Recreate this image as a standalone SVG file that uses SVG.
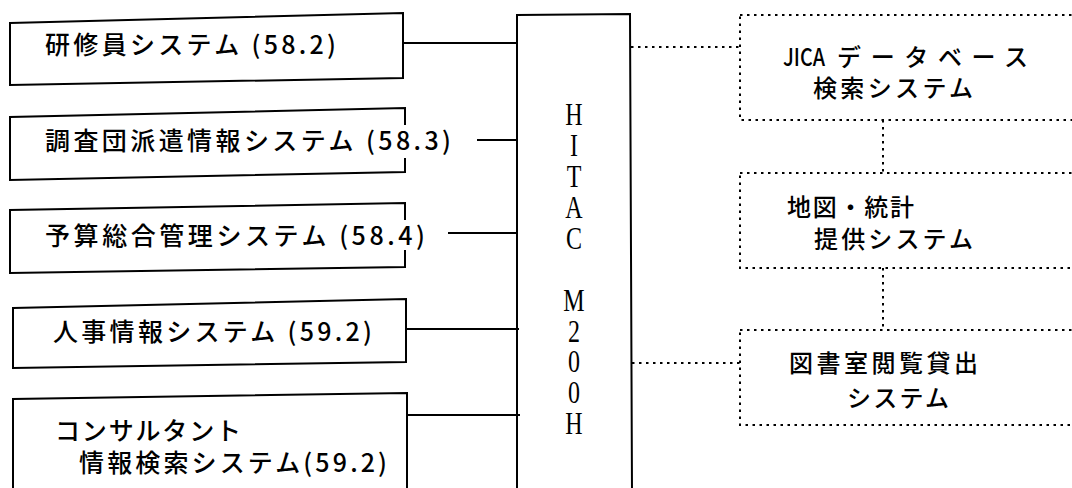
<svg xmlns="http://www.w3.org/2000/svg" width="1072" height="488" viewBox="0 0 1072 488">
<style>
.box{fill:none;stroke:#000;stroke-width:2}
.dbox{fill:none;stroke:#000;stroke-width:2;stroke-dasharray:2.5 4.5}
.ln{stroke:#000;stroke-width:2;fill:none}
.dl{stroke:#000;stroke-width:2;fill:none;stroke-dasharray:2.5 4.5}
.t{font-family:"Noto Sans CJK JP","Noto Sans CJK SC",sans-serif;font-size:25px;fill:#000;font-weight:500}
.tr{font-family:"Noto Sans CJK JP","Noto Sans CJK SC",sans-serif;font-size:24px;fill:#000;font-weight:500}
.h{font-family:"Liberation Serif",serif;font-size:32px;fill:#000;writing-mode:vertical-rl;text-orientation:upright}
</style>
<rect width="1072" height="488" fill="#fff"/>
<g id="connectors">
<line class="ln" x1="403" y1="43" x2="517" y2="43"/>
<line class="ln" x1="477" y1="140" x2="517" y2="140"/>
<line class="ln" x1="448" y1="233" x2="518" y2="233"/>
<line class="ln" x1="406" y1="329" x2="519" y2="329"/>
<line class="ln" x1="407" y1="415" x2="520" y2="415"/>
<line class="dl" x1="631" y1="47" x2="740" y2="47"/>
<line class="dl" x1="632" y1="363" x2="740" y2="363"/>
<line class="dl" x1="883" y1="120" x2="883" y2="173"/>
<line class="dl" x1="883" y1="268" x2="883" y2="330"/>
</g>
<g id="node-kenshuin">
<path class="box" d="M10,23 L403,13 L403,78 L10,85 Z"/>
<text class="t" x="45" y="54" textLength="291" lengthAdjust="spacing">研修員システム (58.2)</text>
</g>
<g id="node-chosadan">
<path class="box" d="M405,125 L405,108 L10,117 L10,180 L405,172 L405,158"/>
<text class="t" x="45" y="150" textLength="406" lengthAdjust="spacing">調査団派遣情報システム (58.3)</text>
</g>
<g id="node-yosan">
<path class="box" d="M405,220 L405,203 L10,210 L10,273 L405,267 L405,250"/>
<text class="t" x="45" y="245" textLength="380" lengthAdjust="spacing">予算総合管理システム (58.4)</text>
</g>
<g id="node-jinji">
<path class="box" d="M13,308 L406,299 L406,362 L13,368 Z"/>
<text class="t" x="53" y="341" textLength="319" lengthAdjust="spacing">人事情報システム (59.2)</text>
</g>
<g id="node-consultant">
<path class="box" d="M13,492 L13,399 L407,393 L407,492"/>
<text class="t" x="55" y="440" textLength="186" lengthAdjust="spacing">コンサルタント</text>
<text class="t" x="79" y="472" textLength="308" lengthAdjust="spacing">情報検索システム(59.2)</text>
</g>
<g id="node-hitac">
<path class="box" d="M517,492 L517,15 L630,14 L632,492"/>
<g transform="translate(574,0) scale(0.75,1)">
<text class="h" x="0" y="97" textLength="344" lengthAdjust="spacing">HITAC M200H</text>
</g>
</g>
<g id="node-jica">
<rect class="dbox" x="740" y="15" width="345" height="105"/>
<text class="tr" y="66"><tspan x="783" textLength="42" lengthAdjust="spacingAndGlyphs">JICA</tspan><tspan x="837" textLength="191" lengthAdjust="spacing">データベース</tspan></text>
<text class="tr" x="813" y="97" textLength="160" lengthAdjust="spacing">検索システム</text>
</g>
<g id="node-chizu">
<rect class="dbox" x="740" y="173" width="345" height="95"/>
<text class="tr" x="787" y="216" textLength="127" lengthAdjust="spacing">地図・統計</text>
<text class="tr" x="814" y="248" textLength="159" lengthAdjust="spacing">提供システム</text>
</g>
<g id="node-toshoshitsu">
<rect class="dbox" x="740" y="330" width="345" height="95"/>
<text class="tr" x="789" y="372" textLength="189" lengthAdjust="spacing">図書室閲覧貸出</text>
<text class="tr" x="847" y="407" textLength="102" lengthAdjust="spacing">システム</text>
</g>
</svg>
